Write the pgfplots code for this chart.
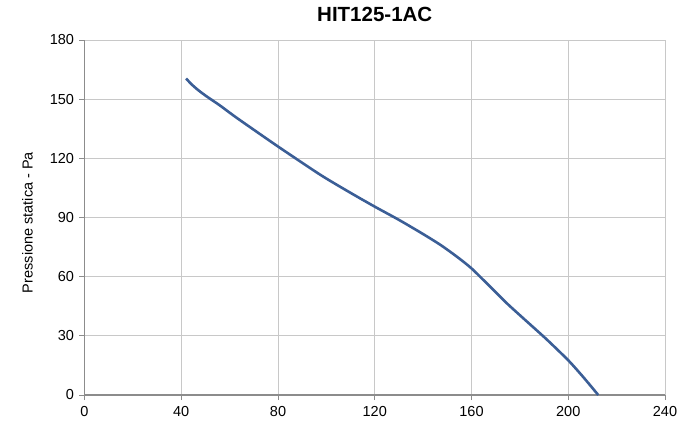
\documentclass[border=0pt]{standalone}
\usepackage{pgfplots}
\pgfplotsset{compat=1.18}
\usepackage{fontspec}
\setmainfont{Liberation Sans}

\definecolor{curva}{RGB}{59,94,150}
\definecolor{griglia}{RGB}{200,200,200}
\definecolor{assi}{RGB}{140,140,140}

\begin{document}
\begin{tikzpicture}
	\begin{axis}[
			at={(84.5pt,29pt)}, anchor=south west,
			scale only axis,
			width=580.5pt,
			height=355pt,
			xmin=0, xmax=240,
			ymin=0, ymax=180,
			xtick={0,40,...,240},
			ytick={0,30,...,180},
			axis x line*=bottom,
			axis y line*=left,
			axis line style={draw=assi, line width=1.5pt},
			grid=major,
			major grid style={draw=griglia, line width=1pt},
			tick align=outside,
			major tick length=5pt,
			tick style={draw=assi, line width=1pt},
			ticklabel style={font=\fontsize{14.5}{16}\selectfont},
			/pgf/number format/assume math mode=true,
			xticklabel style={yshift=-3pt},
			yticklabel style={xshift=-2pt},
			title={HIT125-1AC},
			title style={font=\fontsize{20.5}{24}\selectfont\bfseries,
				at={(0.5,1)}, anchor=base, yshift=12.3pt},
			ylabel={Pressione statica - Pa},
			ylabel style={font=\fontsize{14.5}{16}\selectfont,
				at={(axis description cs:0,0.5)}, anchor=center, xshift=-5pt, yshift=57pt},
		]

		% curva caratteristica
		\addplot[curva, line width=2.6pt, smooth, tension=0.4] coordinates {
				(42,160.5) (44.2,157.6) (47,154.6) (50.5,151.4) (56,146.8)
				(63.2,140.3) (80,126) (97.7,111.5) (110,102.5) (120,95.5)
				(130,88.8) (140,81.6) (147.3,76) (154,70.1) (160,64.2)
				(167.8,54.8) (174.7,46.4) (181.5,38.8) (190.9,28.4) (200,17.6)
				(206.2,9.1) (212.4,0)
			};

	\end{axis}
	\pgfresetboundingbox
	\path[use as bounding box] (0,0) rectangle (696pt,424pt);
\end{tikzpicture}
\end{document}
